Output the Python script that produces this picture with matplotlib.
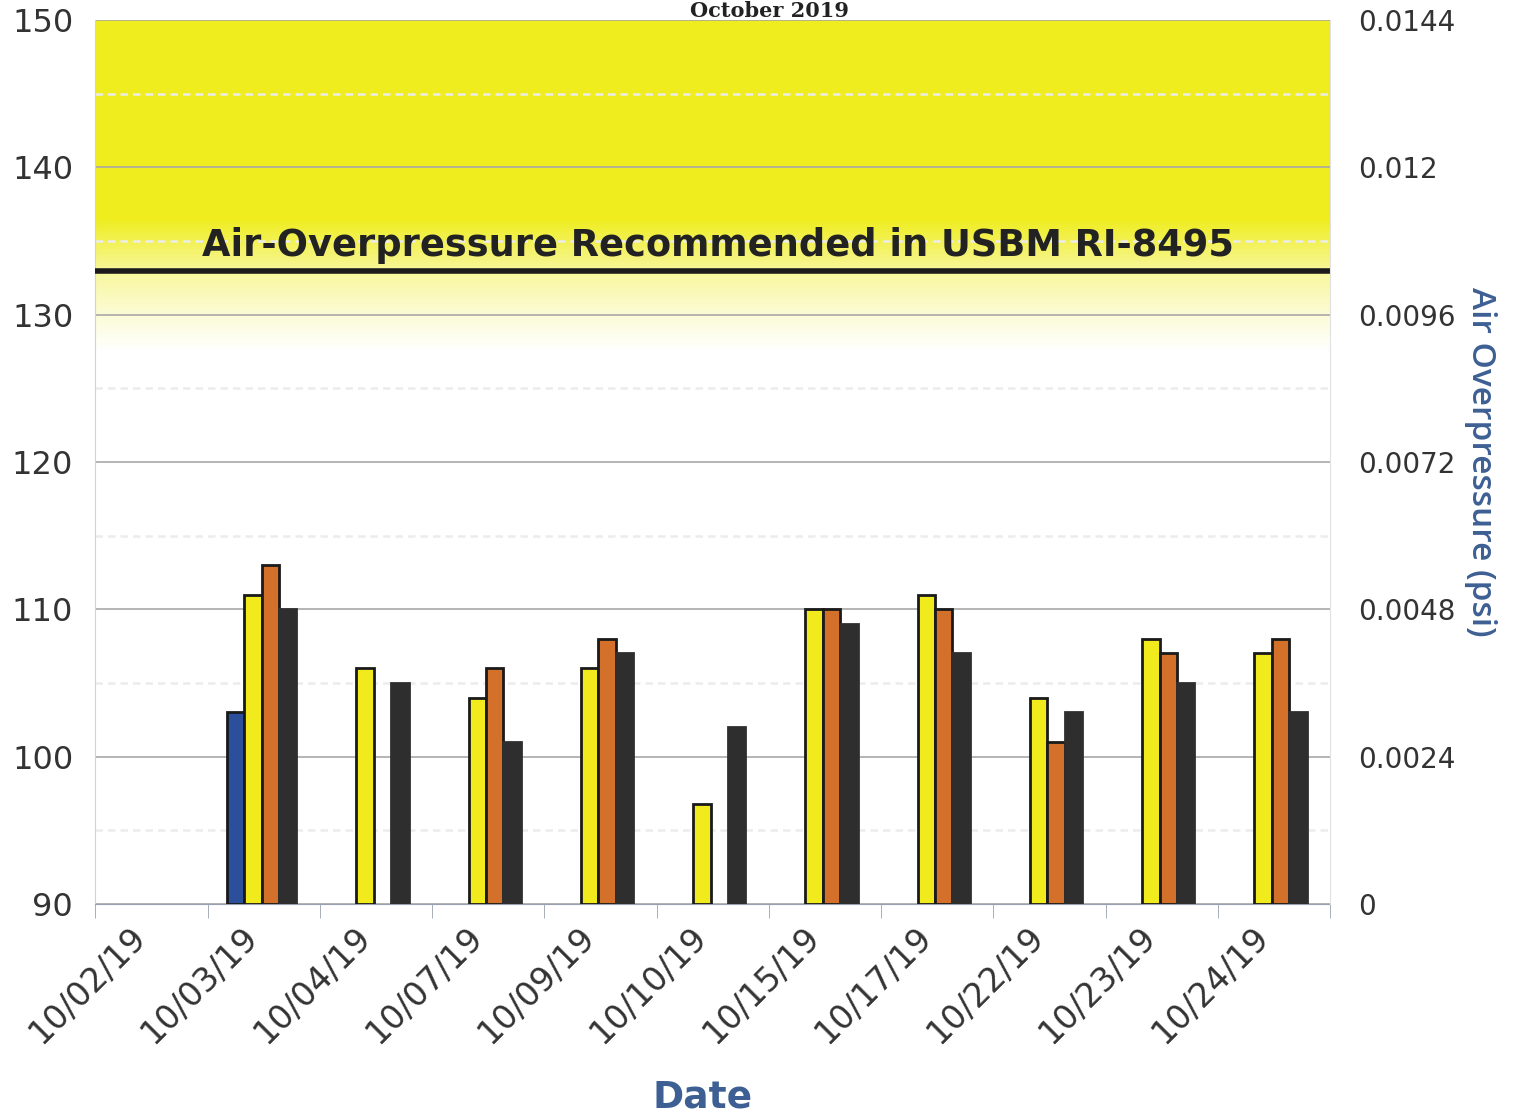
import numpy as np
import matplotlib
matplotlib.use("Agg")
import matplotlib.pyplot as plt
from matplotlib.ticker import MultipleLocator, FixedLocator

# datos (dB)
fechas = ['10/02/19', '10/03/19', '10/04/19', '10/07/19', '10/09/19', '10/10/19',
          '10/15/19', '10/17/19', '10/22/19', '10/23/19', '10/24/19']
serie_azul = [np.nan, 103, np.nan, np.nan, np.nan, np.nan, np.nan, np.nan, np.nan, np.nan, np.nan]
serie_amarilla = [np.nan, 111, 106, 104, 106, 96.8, 110, 111, 104, 108, 107]
serie_naranja = [np.nan, 113, np.nan, 106, 108, np.nan, 110, 110, 101, 107, 108]
serie_negra = [np.nan, 110, 105, 101, 107, 102, 109, 107, 103, 105, 103]

psi_ticks = [0, 0.0024, 0.0048, 0.0072, 0.0096, 0.012, 0.0144]
psi_labels = ['0', '0.0024', '0.0048', '0.0072', '0.0096', '0.012', '0.0144']

limite_usbm = 133
texto_limite = 'Air-Overpressure Recommended in USBM RI-8495'

azul_texto = '#3d5f93'

fig = plt.figure(figsize=(15.15, 11.2), dpi=100)
ax = fig.add_axes([0.063, 0.193, 0.815, 0.789])

x = np.arange(len(fechas))
w = 0.155
series = [
    (serie_azul, '#2c4f9b', '#1a1a1a'),
    (serie_amarilla, '#f1ea1c', '#1a1a1a'),
    (serie_naranja, '#d3702a', '#1a1a1a'),
    (serie_negra, '#2e2e2e', '#2e2e2e'),
]
for i, (vals, color, borde) in enumerate(series):
    vals = np.array(vals, dtype=float)
    ok = ~np.isnan(vals)
    ax.bar(x[ok] + (i - 1.5) * w - 0.02, vals[ok] - 90, bottom=90, width=w,
           color=color, edgecolor=borde, linewidth=2, zorder=3)

# banda amarilla con degradado
ys = np.linspace(150, 126, 300)
alpha = np.interp(ys, [127.5, 130, 133, 136.5, 150], [0, 0.18, 0.45, 1, 1])
img = np.zeros((len(ys), 1, 4))
img[:, 0, 0] = 0.94
img[:, 0, 1] = 0.93
img[:, 0, 2] = 0.12
img[:, 0, 3] = alpha
ax.imshow(img, extent=[-0.5, len(fechas) - 0.5, 126, 150], aspect='auto',
          zorder=0, interpolation='bilinear')
ax.set_xlim(-0.5, len(fechas) - 0.5)
ax.set_ylim(90, 150)

ax.axhline(limite_usbm, color='#1a1a1a', linewidth=4, zorder=4)
ax.text(0.45, limite_usbm + 0.45, texto_limite, fontsize=26.5, fontweight='bold',
        color='#222222', va='bottom', ha='left', zorder=5)

# rejilla
ax.yaxis.set_major_locator(MultipleLocator(10))
ax.yaxis.set_minor_locator(MultipleLocator(5))
ax.grid(axis='y', which='major', color='#a8a8a8', linewidth=1.2, zorder=1)
ax.grid(axis='y', which='minor', color='#ececec', linewidth=1.8, linestyle=(0, (3, 2)), zorder=1)

# etiquetas un poco a la izquierda del centro, como en el original
ax.set_xticks(x - 0.2)
ax.set_xticklabels(fechas, rotation=45, ha='right', va='top', rotation_mode='anchor',
                   fontsize=24, color='#333333')
ax.xaxis.set_minor_locator(FixedLocator(np.arange(-0.5, len(fechas), 1)))
ax.tick_params(axis='x', which='major', length=0, pad=12)
ax.tick_params(axis='x', which='minor', length=10, color='#9aa0b0')
ax.tick_params(axis='y', which='both', length=0, labelsize=23, labelcolor='#333333', pad=16)

for s in ['top', 'right']:
    ax.spines[s].set_visible(False)
ax.spines['left'].set_color('#cfd3dc')
ax.spines['bottom'].set_color('#9aa0b0')

fig.text(0.464, 0.02, 'Date', fontsize=27, fontweight='bold', color=azul_texto,
         ha='center', va='center')

ax2 = ax.twinx()
ax2.set_ylim(0, 0.0144)
ax2.set_yticks(psi_ticks)
ax2.set_yticklabels(psi_labels)
ax2.tick_params(axis='y', length=0, labelsize=20, labelcolor='#333333', pad=20)
for s in ['top', 'left', 'bottom']:
    ax2.spines[s].set_visible(False)
ax2.spines['right'].set_color('#e0e0e0')
ax2.set_ylabel('Air Overpressure (psi)', rotation=270, fontsize=24, fontweight='semibold',
               family='Open Sans', color=azul_texto, labelpad=30)

fig.text(0.508, 0.999, 'October 2019', fontsize=15, fontweight='bold',
         family='DejaVu Serif', ha='center', va='top', color='#222222')

fig.savefig('out.png', dpi=100)
